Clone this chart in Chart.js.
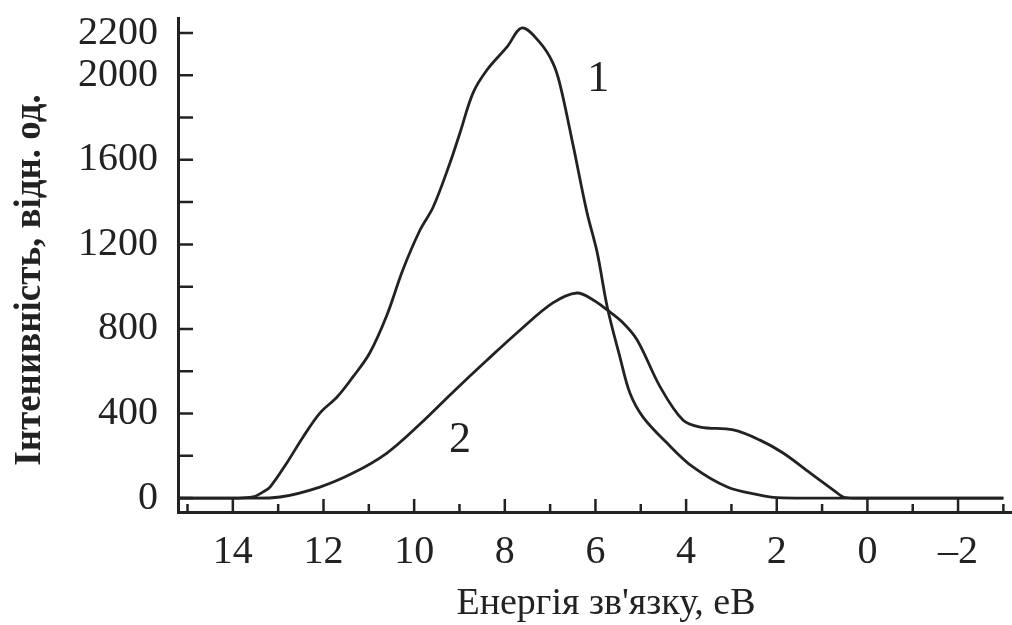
<!DOCTYPE html>
<html>
<head>
<meta charset="utf-8">
<script src="https://cdn.jsdelivr.net/npm/chart.js@4"></script>
<style>
  body { margin: 0; background: #fff; }
  #wrap { width: 1012px; height: 625px; position: relative; }
</style>
</head>
<body>
<div id="wrap"><canvas id="xpsChart"></canvas></div>
<script>
//
//
// Data (binding energy, eV -> intensity, arb. units)
var energies1 = [15.2, 13.96, 13.56, 13.34, 13.18, 12.81, 12.45, 12.08, 11.70, 11.35, 10.98, 10.60, 10.25, 9.87, 9.58, 9.21, 8.99, 8.70, 8.39, 7.95, 7.62, 7.22, 6.94, 6.78, 6.49, 6.19, 5.96, 5.74, 5.46, 5.24, 4.95, 4.42, 3.85, 3.09, 2.37, 1.99, 1.0, 0.0, -1.0, -2.0, -3.0];
var intensity1 = [0, 0, 5, 28, 52, 166, 289, 402, 478, 573, 686, 866, 1079, 1268, 1377, 1585, 1727, 1917, 2026, 2134, 2224, 2153, 2059, 1955, 1666, 1354, 1160, 904, 667, 497, 383, 260, 147, 52, 14, 2, 0, 0, 0, 0, 0];

var energies2 = [15.2, 13.96, 12.96, 12.08, 11.35, 10.60, 9.87, 9.14, 8.39, 7.66, 6.94, 6.41, 6.05, 5.74, 5.41, 5.08, 4.57, 4.07, 3.69, 2.96, 2.37, 1.86, 1.26, 0.75, 0.53, 0.2, -1.0, -2.0, -3.0];
var intensity2 = [0, 0, 5, 52, 118, 213, 350, 502, 653, 795, 923, 970, 937, 890, 833, 748, 525, 369, 336, 322, 274, 213, 118, 38, 5, 0, 0, 0, 0];

// Axis ticks
var xMajorTicks = [14, 12, 10, 8, 6, 4, 2, 0, -2];
var xMinorTicks = [15, 13, 11, 9, 7, 5, 3, 1, -1, -3];
var yLabelTicks = [0, 400, 800, 1200, 1600, 2000, 2200];
var yMarkTicks = [0, 200, 400, 600, 800, 1000, 1200, 1400, 1600, 1800, 2000, 2200];

// Curve numbers
var curveNames = ['1', '2'];
var curveNameX = [5.94, 8.99];
var curveNameY = [1978, 274];

var ink = '#222';
var serif = "'Liberation Serif', 'Times New Roman', serif";

function toPoints(xs, ys) {
    return xs.map(function(x, i) { return { x: x, y: ys[i] }; });
}

//
// Tick marks, curve numbers and axis titles
var decorations = {
    id: 'decorations',
    afterDraw: function(chart) {
        var ctx = chart.ctx;
        var xs = chart.scales.x;
        var ys = chart.scales.y;
        var area = chart.chartArea;

        ctx.save();
        ctx.strokeStyle = ink;
        ctx.lineWidth = 2.5;
        ctx.beginPath();
        yMarkTicks.forEach(function(v) {
            var py = ys.getPixelForValue(v);
            ctx.moveTo(area.left, py);
            ctx.lineTo(area.left + 15, py);
        });
        xMajorTicks.forEach(function(v) {
            var px = xs.getPixelForValue(v);
            ctx.moveTo(px, area.bottom);
            ctx.lineTo(px, area.bottom - 13);
        });
        xMinorTicks.forEach(function(v) {
            var px = xs.getPixelForValue(v);
            ctx.moveTo(px, area.bottom);
            ctx.lineTo(px, area.bottom - 8);
        });
        ctx.stroke();

        ctx.fillStyle = ink;
        ctx.textAlign = 'center';
        ctx.textBaseline = 'middle';
        ctx.font = '44px ' + serif;
        curveNames.forEach(function(name, i) {
            ctx.fillText(name, xs.getPixelForValue(curveNameX[i]), ys.getPixelForValue(curveNameY[i]));
        });

        ctx.font = '38px ' + serif;
        ctx.fillText('Енергія зв\'язку, еВ', 606, 604);

        ctx.translate(30, 280);
        ctx.rotate(-Math.PI / 2);
        ctx.font = 'bold 37px ' + serif;
        ctx.fillText('Інтенивність, відн. од.', 0, 0);
        ctx.restore();
    }
};

var ctx = document.getElementById('xpsChart').getContext('2d');
new Chart(ctx, {
    type: 'line',
    data: {
        datasets: [{
            label: '1',
            data: toPoints(energies1, intensity1),
            borderColor: ink,
            borderWidth: 2.8,
            pointRadius: 0,
            tension: 0.35,
            fill: false
        }, {
            label: '2',
            data: toPoints(energies2, intensity2),
            borderColor: ink,
            borderWidth: 2.8,
            pointRadius: 0,
            tension: 0.35,
            fill: false
        }]
    },
    options: {
        responsive: true,
        maintainAspectRatio: false,
        animation: false,
        layout: {
            padding: { top: 18, right: 0, bottom: 0, left: 0 }
        },
        plugins: {
            legend: { display: false },
            tooltip: { enabled: false }
        },
        scales: {
            x: {
                type: 'linear',
                reverse: true,
                min: -3.19,
                max: 15.21,
                grid: { display: false, drawTicks: false },
                border: { display: true, color: ink, width: 3 },
                ticks: {
                    color: ink,
                    padding: 16,
                    maxRotation: 0,
                    font: { family: serif, size: 40 },
                    callback: function(v) { return v < 0 ? '\u2013' + Math.abs(v) : String(v); }
                },
                afterBuildTicks: function(scale) {
                    scale.ticks = xMajorTicks.map(function(v) { return { value: v }; });
                },
                afterFit: function(scale) {
                    scale.height = 113;
                    scale.paddingLeft = 0;
                    scale.paddingRight = 0;
                }
            },
            y: {
                type: 'linear',
                min: -66,
                max: 2271,
                grid: { display: false, drawTicks: false },
                border: { display: true, color: ink, width: 3 },
                ticks: {
                    color: ink,
                    padding: 20,
                    font: { family: serif, size: 40 },
                    callback: function(v) { return String(v); }
                },
                afterBuildTicks: function(scale) {
                    scale.ticks = yLabelTicks.map(function(v) { return { value: v }; });
                },
                afterFit: function(scale) {
                    scale.width = 178;
                    scale.paddingTop = 0;
                    scale.paddingBottom = 0;
                }
            }
        }
    },
    plugins: [decorations]
});
</script>
</body>
</html>
